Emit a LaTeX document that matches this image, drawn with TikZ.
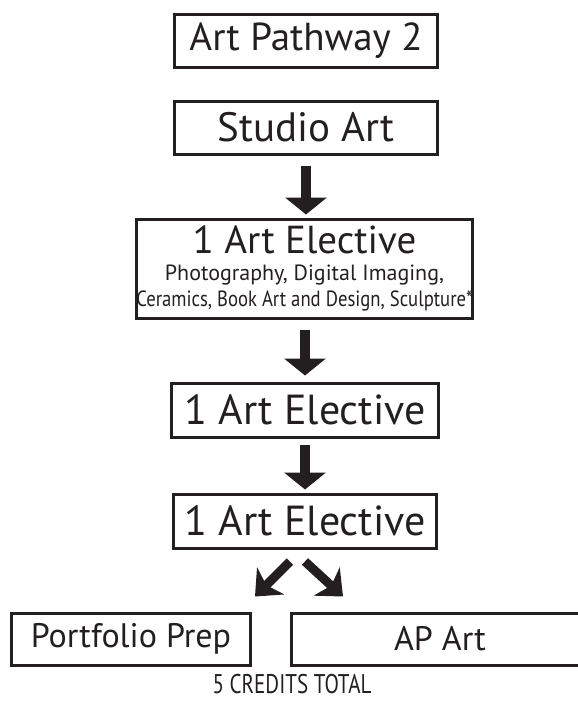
\documentclass[tikz,border=0pt]{standalone}
\usepackage{fontspec}
\setmainfont{PT Sans}
\usepackage{graphicx}
\usepackage{tikz}
\usetikzlibrary{arrows.meta}
\usetikzlibrary{positioning}
\definecolor{clink}{HTML}{231F20}
\tikzstyle{course} = [line width=3pt, rectangle, draw=clink, text=clink, text centered, minimum width=263pt, minimum height=53pt, inner sep=0pt, font=\fontsize{34}{38}\selectfont]
\tikzstyle{bigline} = [draw=clink, line width=10pt, -{Triangle[width=41pt,length=17pt]}]
\tikzstyle{slantline} = [draw=clink, line width=9pt, -{Stealth[width=38pt,length=22pt,inset=6pt]}]

\begin{document}
\begin{tikzpicture}[x=1pt, y=1pt]
    \useasboundingbox (0,0) rectangle (578,-704);

    \node [course, font=\fontsize{39}{40}\selectfont] (path) at (306,-40.5) {Art Pathway 2};
    \node [course, below=31pt of path, font=\fontsize{41}{42}\selectfont] (studio) {Studio Art};
    \node [course, below=62pt of studio, xshift=-1.5pt, minimum width=332pt, minimum height=99pt, align=center,
           font=\fontsize{22}{26.5}\selectfont] (elect1)
        {{\fontsize{39}{40}\selectfont 1 Art Elective}\\
         Photography, Digital Imaging,\\
         \scalebox{0.85}[1]{Ceramics, Book Art and Design, Sculpture*}};
    \node [course, below=62pt of elect1, xshift=0.5pt, minimum width=267pt, minimum height=54pt, font=\fontsize{42}{44}\selectfont] (elect2) {1 Art Elective};
    \node [course, below=54pt of elect2, minimum height=54pt, font=\fontsize{42}{44}\selectfont] (elect3) {1 Art Elective};

    \node [course, below=62pt of elect3, xshift=-174pt, minimum width=239pt, minimum height=52pt] (prep) {Portfolio Prep};
    \node [course, right=38pt of prep, minimum width=297pt, minimum height=52pt] (apart) {AP Art};
    \node [text=clink, font=\fontsize{27}{28}\selectfont] (total) at (292,-684) {\scalebox{0.78}[1]{5 CREDITS TOTAL}};

    %\draw [bigline] (path) -- (studio);
    \path [bigline, shorten <=10pt, shorten >=3pt] (studio.south) -- (studio.south |- elect1.north);
    \path [bigline, shorten <=10pt, shorten >=6pt] (elect2.north |- elect1.south) -- (elect2.north);
    \path [bigline, shorten <=6pt, shorten >=3pt] (elect2.south) -- (elect3.north);

    \path [slantline] ([shift={(-15pt,-12pt)}]elect3.south) -- ([shift={(-50pt,-47pt)}]elect3.south);
    \path [slantline] ([shift={(0pt,-12pt)}]elect3.south) -- ([shift={(38pt,-47pt)}]elect3.south);

\end{tikzpicture}
\end{document}
